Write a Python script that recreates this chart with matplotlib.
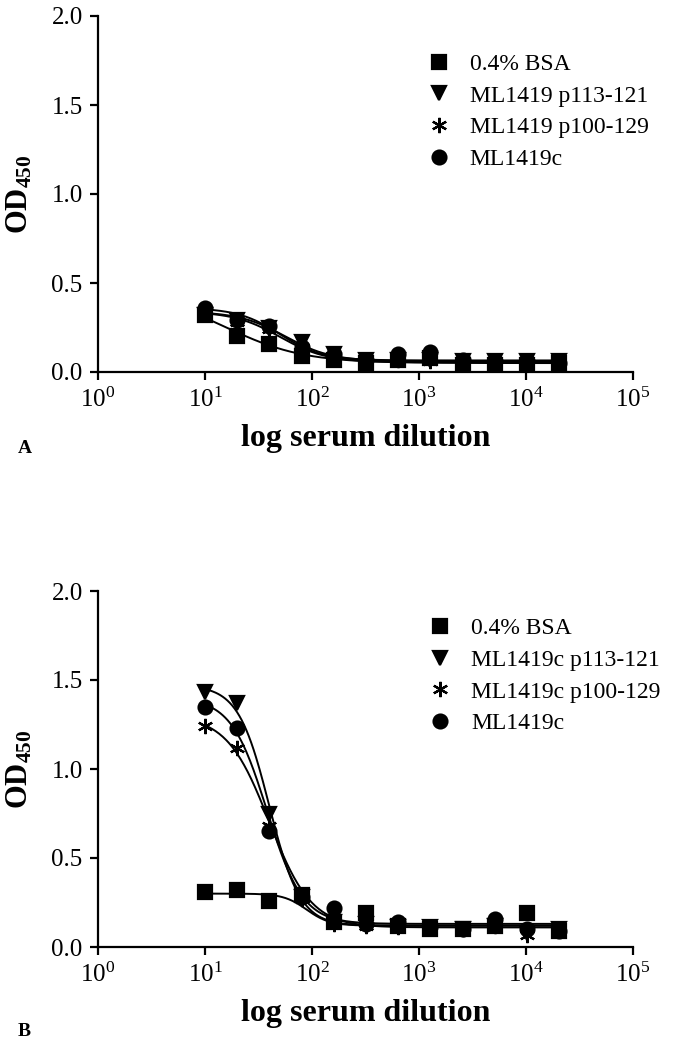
import numpy as np
import matplotlib
matplotlib.use('Agg')
import matplotlib.pyplot as plt
from matplotlib.lines import Line2D

plt.rcParams['font.family'] = ['Liberation Serif', 'DejaVu Serif']
plt.rcParams['mathtext.fontset'] = 'custom'
plt.rcParams['mathtext.rm'] = 'Liberation Serif'
plt.rcParams['mathtext.it'] = 'Liberation Serif:italic'
plt.rcParams['mathtext.bf'] = 'Liberation Serif:bold'

# serum dilutions (1:10 two-fold series)
dilution = [10, 20, 40, 80, 160, 320, 640, 1280, 2560, 5120, 10240, 20480]

# panel A - OD450 values
a_bsa = [0.32, 0.20, 0.16, 0.09, 0.07, 0.05, 0.07, 0.08, 0.04, 0.04, 0.04, 0.05]
a_p113 = [0.32, 0.29, 0.25, 0.17, 0.10, 0.07, 0.07, 0.07, 0.06, 0.06, 0.06, 0.06]
a_p100 = [0.33, 0.28, 0.24, 0.14, 0.09, 0.07, 0.07, 0.06, 0.06, 0.05, 0.05, 0.05]
a_full = [0.36, 0.29, 0.26, 0.14, 0.10, 0.07, 0.10, 0.11, 0.07, 0.06, 0.06, 0.05]

# panel B - OD450 values
b_bsa = [0.31, 0.32, 0.26, 0.29, 0.14, 0.19, 0.12, 0.10, 0.10, 0.12, 0.19, 0.09]
b_p113 = [1.43, 1.37, 0.75, 0.28, 0.14, 0.13, 0.11, 0.11, 0.10, 0.12, 0.08, 0.10]
b_p100 = [1.24, 1.12, 0.68, 0.27, 0.13, 0.12, 0.11, 0.11, 0.10, 0.12, 0.07, 0.10]
b_full = [1.35, 1.23, 0.65, 0.28, 0.22, 0.13, 0.14, 0.11, 0.10, 0.16, 0.10, 0.09]

# sigmoidal fit parameters: top, bottom, logEC50, hill slope
a_fits = [(0.45, 0.05, 1.20, 1.2), (0.34, 0.06, 1.75, 2.0),
          (0.34, 0.055, 1.70, 2.0), (0.36, 0.065, 1.70, 2.2)]
b_fits = [(0.30, 0.12, 1.95, 4.0), (1.47, 0.12, 1.60, 3.0),
          (1.30, 0.11, 1.60, 2.2), (1.40, 0.13, 1.58, 2.6)]

labels_a = ['0.4% BSA', 'ML1419 p113-121', 'ML1419 p100-129', 'ML1419c']
labels_b = ['0.4% BSA', 'ML1419c p113-121', 'ML1419c p100-129', 'ML1419c']

markers = ['s', 'v', (6, 2, 0), 'o']
msizes = [10, 10, 11, 10]


def sigmoid(x, top, bottom, logec50, hill):
    return bottom + (top - bottom) / (1 + 10 ** ((np.log10(x) - logec50) * hill))


def draw_panel(ax, series, fits, labels, leg_anchor):
    xs = np.logspace(np.log10(dilution[0]), np.log10(dilution[-1]), 300)
    for y, fit, m, ms in zip(series, fits, markers, msizes):
        ax.plot(xs, sigmoid(xs, *fit), color='black', lw=1.4, zorder=2)
        ax.plot(dilution, y, ls='none', marker=m, ms=ms, color='black',
                mew=1.6, zorder=3)

    ax.set_xscale('log')
    ax.set_xlim(1, 1e5)
    ax.set_ylim(0, 2.0)
    ax.set_xticks([1, 10, 100, 1000, 10000, 100000])
    ax.set_xticklabels([r'$10^{%d}$' % i for i in range(6)])
    ax.xaxis.set_minor_locator(matplotlib.ticker.NullLocator())
    ax.set_yticks([0, 0.5, 1.0, 1.5, 2.0])
    ax.set_yticklabels(['0.0', '0.5', '1.0', '1.5', '2.0'])
    ax.spines['top'].set_visible(False)
    ax.spines['right'].set_visible(False)
    for s in ['left', 'bottom']:
        ax.spines[s].set_linewidth(1.6)
    ax.tick_params(width=1.6, length=6, labelsize=18, pad=5)

    ax.set_xlabel('log serum dilution', fontsize=23, fontweight='bold')
    ax.xaxis.set_label_coords(0.5, -0.145)
    ax.set_ylabel(r'$\mathbf{OD_{450}}$', fontsize=22)
    ax.yaxis.set_label_coords(-0.118, 0.5)

    handles = [Line2D([], [], ls='none', marker=m, ms=ms, color='black', mew=1.6)
               for m, ms in zip(markers, msizes)]
    ax.legend(handles, labels, loc='upper left', bbox_to_anchor=leg_anchor,
              frameon=False, fontsize=17, handlelength=1.0, handletextpad=0.8,
              labelspacing=0.43, borderpad=0, borderaxespad=0)


fig = plt.figure(figsize=(6.95, 10.5), dpi=100)
ax_a = fig.add_axes([98 / 695, 1 - 372 / 1050, 535 / 695, 356 / 1050])
ax_b = fig.add_axes([98 / 695, 1 - 947 / 1050, 535 / 695, 356 / 1050])

draw_panel(ax_a, [a_bsa, a_p113, a_p100, a_full], a_fits, labels_a, (0.615, 0.895))
draw_panel(ax_b, [b_bsa, b_p113, b_p100, b_full], b_fits, labels_b, (0.618, 0.925))

fig.text(18 / 695, 1 - 448 / 1050, 'A', fontsize=14, fontweight='bold', va='center')
fig.text(18 / 695, 1 - 1032 / 1050, 'B', fontsize=14, fontweight='bold', va='center')

fig.savefig('out.png', dpi=100)
